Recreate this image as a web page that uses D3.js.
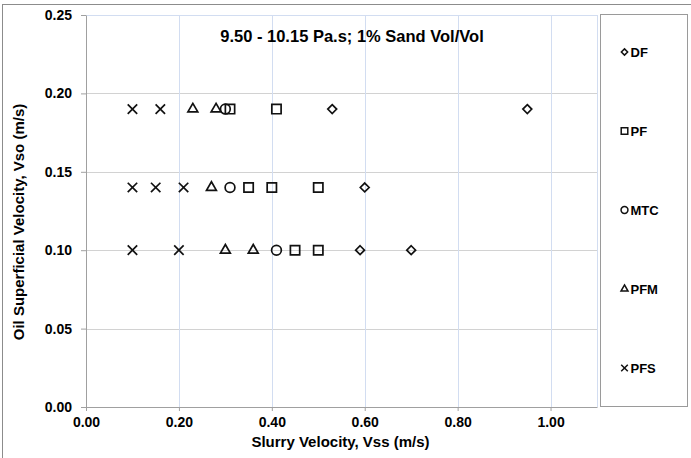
<!DOCTYPE html>
<html>
<head>
<meta charset="utf-8">
<script src="https://cdn.jsdelivr.net/npm/d3@7"></script>
<style>
  body { margin: 0; background: #fff; }
  text { font-family: Arial, "Liberation Sans", sans-serif; font-weight: bold; fill: #000; }
</style>
</head>
<body>
<div id="chart"></div>
<script>
// series names and values (Vss, Vso)
var seriesNames = ["DF", "PF", "MTC", "PFM", "PFS"];
var dfX = [0.53, 0.95, 0.60, 0.59, 0.70];
var dfY = [0.19, 0.19, 0.14, 0.10, 0.10];
var pfX = [0.31, 0.41, 0.35, 0.40, 0.50, 0.45, 0.50];
var pfY = [0.19, 0.19, 0.14, 0.14, 0.14, 0.10, 0.10];
var mtcX = [0.30, 0.31, 0.41];
var mtcY = [0.19, 0.14, 0.10];
var pfmX = [0.23, 0.28, 0.27, 0.30, 0.36];
var pfmY = [0.19, 0.19, 0.14, 0.10, 0.10];
var pfsX = [0.10, 0.16, 0.10, 0.15, 0.21, 0.10, 0.20];
var pfsY = [0.19, 0.19, 0.14, 0.14, 0.14, 0.10, 0.10];
var xTicks = [0, 0.2, 0.4, 0.6, 0.8, 1.0];
var yTicks = [0, 0.05, 0.10, 0.15, 0.20, 0.25];

var svgWidth = 691;
var svgHeight = 458;
var margin = { top: 15, right: 94, bottom: 51, left: 86 };
var width = svgWidth - margin.left - margin.right;
var height = svgHeight - margin.top - margin.bottom;

var svg = d3.select("#chart").append("svg")
    .attr("width", svgWidth)
    .attr("height", svgHeight);

// outer frame
svg.append("rect")
    .attr("x", 2.5).attr("y", 4.5)
    .attr("width", 700).attr("height", 470)
    .attr("fill", "none").attr("stroke", "#8c8c8c");

var chartGroup = svg.append("g")
    .attr("transform", `translate(${margin.left}, ${margin.top})`);

var x = d3.scaleLinear().domain([0, 1.1]).range([0, width]);
var y = d3.scaleLinear().domain([0, 0.25]).range([height, 0]);

// gridlines
chartGroup.selectAll(".hgrid")
    .data(yTicks.slice(1))
    .enter().append("line")
    .attr("x1", 0).attr("x2", width)
    .attr("y1", d => Math.round(y(d)) + 0.5).attr("y2", d => Math.round(y(d)) + 0.5)
    .attr("stroke", "#d2d2d2");

chartGroup.selectAll(".vgrid")
    .data(xTicks.slice(1).concat([1.1]))
    .enter().append("line")
    .attr("y1", 0).attr("y2", height)
    .attr("x1", d => Math.round(x(d)) + 0.5).attr("x2", d => Math.round(x(d)) + 0.5)
    .attr("stroke", "#d2ddf1");

chartGroup.append("line")
    .attr("x1", 0).attr("x2", width).attr("y1", 0.5).attr("y2", 0.5)
    .attr("stroke", "#d2ddf1");

// axes
var bottomAxis = d3.axisBottom(x).tickValues(xTicks).tickFormat(d3.format(".2f"))
    .tickSizeInner(4).tickSizeOuter(0).tickPadding(6);
var leftAxis = d3.axisLeft(y).tickValues(yTicks).tickFormat(d3.format(".2f"))
    .tickSizeInner(5).tickSizeOuter(0).tickPadding(9);

var gx = chartGroup.append("g")
    .attr("transform", `translate(0, ${height})`)
    .call(bottomAxis);
var gy = chartGroup.append("g").call(leftAxis);

[gx, gy].forEach(function(g) {
    g.selectAll("path, line").attr("stroke", "#a0a0a0");
    g.selectAll("text").style("font-size", "14px").style("font-weight", "bold")
        .style("font-family", "Arial, 'Liberation Sans', sans-serif");
});

// markers
var symbols = [d3.symbolDiamond2, d3.symbolSquare2, d3.symbolCircle, d3.symbolTriangle2, d3.symbolTimes];
var sizes = [50, 110, 75, 70, 60];
var allX = [dfX, pfX, mtcX, pfmX, pfsX];
var allY = [dfY, pfY, mtcY, pfmY, pfsY];

seriesNames.forEach(function(name, i) {
    var pts = allX[i].map((v, j) => ({ vss: v, vso: allY[i][j] }));
    chartGroup.selectAll(".s" + i)
        .data(pts)
        .enter().append("path")
        .attr("d", d3.symbol().type(symbols[i]).size(sizes[i]))
        .attr("transform", d => `translate(${x(d.vss)}, ${y(d.vso)})`)
        .attr("fill", "none")
        .attr("stroke", "#111")
        .attr("stroke-width", 1.7);
});

// title
chartGroup.append("text")
    .attr("x", 266).attr("y", 27)
    .attr("text-anchor", "middle")
    .style("font-size", "16.5px")
    .text("9.50 - 10.15 Pa.s; 1% Sand Vol/Vol");

// axis titles
svg.append("text")
    .attr("x", margin.left + width / 2 - 1).attr("y", 447)
    .attr("text-anchor", "middle")
    .style("font-size", "15px")
    .text("Slurry Velocity, Vss (m/s)");

svg.append("text")
    .attr("transform", "rotate(-90)")
    .attr("x", -222).attr("y", 24)
    .attr("text-anchor", "middle")
    .style("font-size", "15px")
    .text("Oil Superficial Velocity, Vso (m/s)");

// legend
var legend = svg.append("g");
legend.append("rect")
    .attr("x", 600.5).attr("y", 14.5)
    .attr("width", 87).attr("height", 392)
    .attr("fill", "#fff").attr("stroke", "#9a9a9a");

var legendY = d3.scalePoint().domain(seriesNames).range([52, 368]);
seriesNames.forEach(function(name, i) {
    legend.append("path")
        .attr("d", d3.symbol().type(symbols[i]).size(sizes[i] * 0.5))
        .attr("transform", `translate(624.5, ${legendY(name)})`)
        .attr("fill", "none").attr("stroke", "#111").attr("stroke-width", 1.5);
    legend.append("text")
        .attr("x", 630.5).attr("y", legendY(name) + 4.5)
        .style("font-size", "13px")
        .text(name);
});
</script>
</body>
</html>
